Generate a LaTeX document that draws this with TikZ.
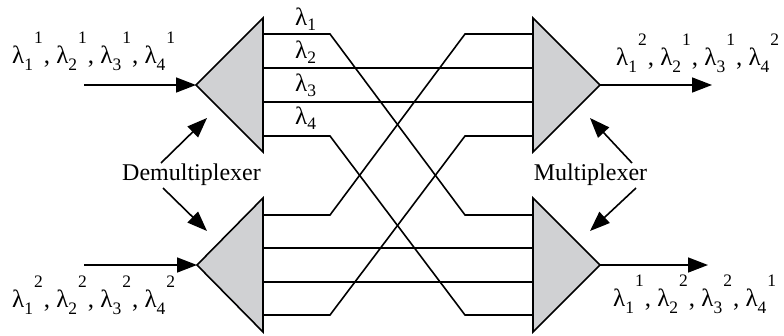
\documentclass[tikz,border=0pt]{standalone}
\usepackage{fontspec}
\setmainfont{Liberation Serif}
\usetikzlibrary{arrows.meta}
\definecolor{trigray}{RGB}{208,209,211}
\newcommand{\subf}{\fontsize{17.5}{17.5}\selectfont}
\newcommand{\lamss}[2]{λ\raisebox{-7pt}{\subf #1}\hspace{1pt}\raisebox{19.5pt}{\subf #2}}
\newcommand{\lams}[1]{λ\raisebox{-5pt}{\subf #1}}
\begin{document}
\begin{tikzpicture}[x=1pt,y=-1pt,
  wire/.style={line width=1.6pt,line join=miter},
  tri/.style={fill=trigray,draw=black,line width=1.6pt,line join=miter},
  sig/.style={line width=1.6pt,-{Triangle[length=20pt,width=15pt]}},
  lbl/.style={inner sep=0pt,anchor=base west,font=\fontsize{25}{30}\selectfont},
  wl/.style={inner sep=0pt,anchor=base west,font=\fontsize{25}{30}\selectfont},
  dev/.style={inner sep=0pt,anchor=base,font=\fontsize{24}{28}\selectfont}]
\useasboundingbox (0,0) rectangle (784,335);
% triangles
\filldraw[tri] (196,85) -- (263,18) -- (263,152) -- cycle;
\filldraw[tri] (197,265) -- (263,198) -- (263,332) -- cycle;
\filldraw[tri] (600,85) -- (533,18) -- (533,152) -- cycle;
\filldraw[tri] (600,265) -- (533,198) -- (533,332) -- cycle;
% ports
\coordinate (da) at (196,85);
\coordinate (db) at (197,265);
\coordinate (ma) at (600,85);
\coordinate (mb) at (600,265);
\foreach \i/\y in {1/34,2/68,3/102,4/136}{
  \coordinate (da\i) at (263,\y);
  \coordinate (ma\i) at (533,\y);}
\foreach \i/\y in {1/215,2/248,3/282,4/315}{
  \coordinate (db\i) at (263,\y);
  \coordinate (mb\i) at (533,\y);}
% wires
\draw[wire] (da1) -- (330,34) -- (465,215) -- (mb1);
\draw[wire] (da2) -- (ma2);
\draw[wire] (da3) -- (ma3);
\draw[wire] (da4) -- (330,136) -- (465,315) -- (mb4);
\draw[wire] (db1) -- (330,215) -- (465,34) -- (ma1);
\draw[wire] (db2) -- (mb2);
\draw[wire] (db3) -- (mb3);
\draw[wire] (db4) -- (330,315) -- (465,136) -- (ma4);
% input / output
\coordinate (ina) at (84,85);
\coordinate (inb) at (84,265);
\coordinate (outa) at (712,85);
\coordinate (outb) at (708,265);
\draw[sig] (ina) -- (da);
\draw[sig] (inb) -- (db);
\draw[sig] (ma) -- (outa);
\draw[sig] (mb) -- (outb);
% wavelength labels on wires
\node[wl] (l1) at (295,25) {\lams{1}};
\node[wl] (l2) at (295,58) {\lams{2}};
\node[wl] (l3) at (295,91) {\lams{3}};
\node[wl] (l4) at (295,124) {\lams{4}};
% signal labels
\node[lbl] (sa) at (12,63) {\lamss{1}{1}\hspace{1pt}, \lamss{2}{1}\hspace{1pt}, \lamss{3}{1}\hspace{1pt}, \lamss{4}{1}};
\node[lbl] (sb) at (12,307) {\lamss{1}{2}\hspace{1pt}, \lamss{2}{2}\hspace{1pt}, \lamss{3}{2}\hspace{1pt}, \lamss{4}{2}};
\node[lbl] (sc) at (616,65) {\lamss{1}{2}\hspace{1pt}, \lamss{2}{1}\hspace{1pt}, \lamss{3}{1}\hspace{1pt}, \lamss{4}{2}};
\node[lbl] (sd) at (613,306) {\lamss{1}{1}\hspace{1pt}, \lamss{2}{2}\hspace{1pt}, \lamss{3}{2}\hspace{1pt}, \lamss{4}{1}};
% device labels
\node[dev] (demux) at (191.5,180) {Demultiplexer};
\node[dev] (mux) at (590.5,180) {Multiplexer};
\coordinate (dt1) at (161,163);
\coordinate (dh1) at (207,118);
\coordinate (dt2) at (163,188);
\coordinate (dh2) at (207,231);
\coordinate (mt1) at (632,163);
\coordinate (mh1) at (590,118);
\coordinate (mt2) at (636,188);
\coordinate (mh2) at (590,231);
\draw[sig] (dt1) -- (dh1);
\draw[sig] (dt2) -- (dh2);
\draw[sig] (mt1) -- (mh1);
\draw[sig] (mt2) -- (mh2);
\end{tikzpicture}
\end{document}
